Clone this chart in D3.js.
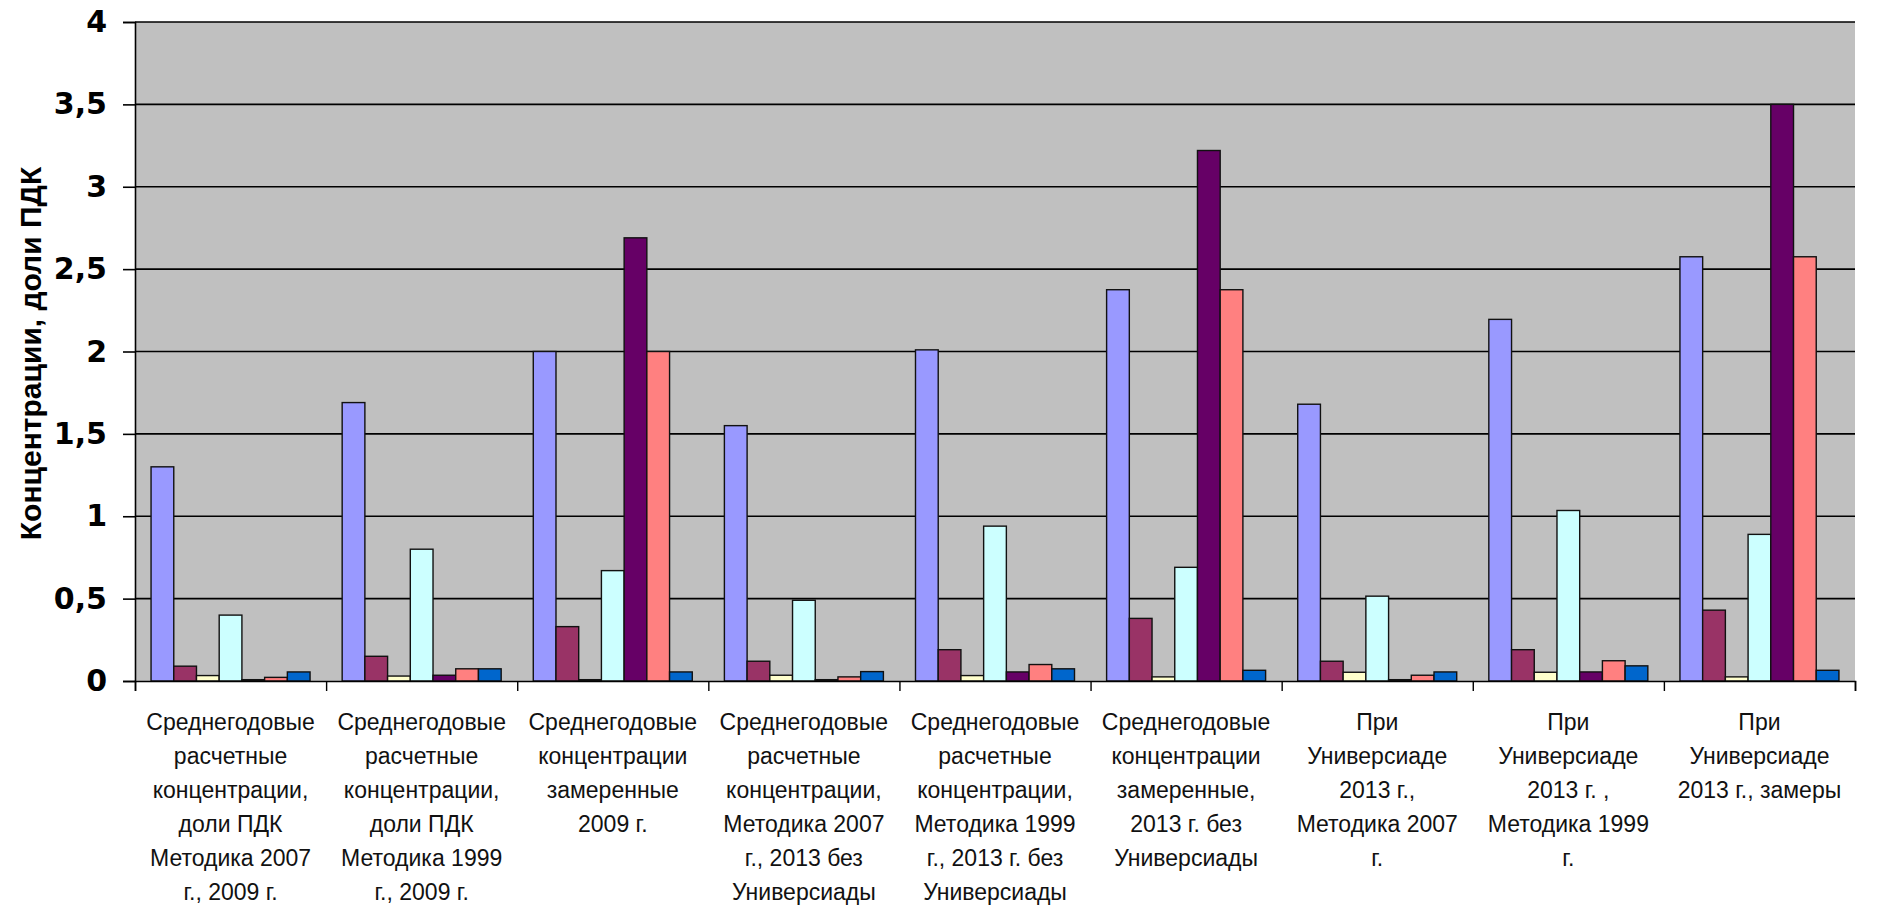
<!DOCTYPE html>
<html>
<head>
<meta charset="utf-8">
<script src="https://cdn.jsdelivr.net/npm/d3@7"></script>
<style>
	body { margin: 0; background: #fff; }
	.ytick text { font-family: "DejaVu Sans", sans-serif; font-weight: bold; font-size: 30px; fill: #000; }
	.cat { font-family: "Liberation Sans", Arial, sans-serif; font-size: 23px; fill: #111; }
	.ytitle { font-family: "Liberation Sans", Arial, sans-serif; font-weight: bold; font-size: 30px; fill: #000; }
</style>
</head>
<body>
<div id="chart"></div>
<script>
// categories, each split into the lines shown under the axis
const categories = [
	["Среднегодовые", "расчетные", "концентрации,", "доли ПДК", "Методика 2007", "г., 2009 г."],
	["Среднегодовые", "расчетные", "концентрации,", "доли ПДК", "Методика 1999", "г., 2009 г."],
	["Среднегодовые", "концентрации", "замеренные", "2009 г."],
	["Среднегодовые", "расчетные", "концентрации,", "Методика 2007", "г., 2013 без", "Универсиады"],
	["Среднегодовые", "расчетные", "концентрации,", "Методика 1999", "г., 2013 г. без", "Универсиады"],
	["Среднегодовые", "концентрации", "замеренные,", "2013 г. без", "Универсиады"],
	["При", "Универсиаде", "2013 г.,", "Методика 2007", "г."],
	["При", "Универсиаде", "2013 г. ,", "Методика 1999", "г."],
	["При", "Универсиаде", "2013 г., замеры"]
];

// one array per series (values in доли ПДК)
const series1 = [1.30, 1.69, 2.00, 1.55, 2.01, 2.375, 1.68, 2.195, 2.575];
const series2 = [0.09, 0.15, 0.33, 0.12, 0.19, 0.38, 0.12, 0.19, 0.43];
const series3 = [0.033, 0.03, 0.008, 0.035, 0.033, 0.025, 0.053, 0.053, 0.025];
const series4 = [0.40, 0.80, 0.67, 0.49, 0.94, 0.69, 0.515, 1.035, 0.89];
const series5 = [0.008, 0.035, 2.69, 0.008, 0.055, 3.22, 0.008, 0.055, 3.5];
const series6 = [0.022, 0.074, 2.00, 0.025, 0.10, 2.375, 0.035, 0.123, 2.575];
const series7 = [0.055, 0.074, 0.055, 0.057, 0.074, 0.065, 0.055, 0.092, 0.065];

const seriesColors = ["#9999FF", "#993366", "#FFFFCC", "#CCFFFF", "#660066", "#FF8080", "#0066CC"];
const yTicks = [0, 0.5, 1, 1.5, 2, 2.5, 3, 3.5, 4];

const allSeries = [series1, series2, series3, series4, series5, series6, series7];

const width = 1879, height = 906;
const plot = {left: 135, right: 1855, top: 22, bottom: 681};

let svg = d3.select("#chart").append("svg")
	.attr("width", width).attr("height", height);

// group scale + bar scale inside a group
let x0 = d3.scaleBand()
	.domain(d3.range(categories.length))
	.range([plot.left, plot.right])
	.paddingInner(0.168).paddingOuter(0.084);
let x1 = d3.scaleBand()
	.domain(d3.range(allSeries.length))
	.range([0, x0.bandwidth()]);
let y = d3.scaleLinear().domain([0, 4]).range([plot.bottom, plot.top]);

// plot background
svg.append("rect")
	.attr("x", plot.left).attr("y", plot.top)
	.attr("width", plot.right - plot.left).attr("height", plot.bottom - plot.top)
	.attr("fill", "#C0C0C0");

// grid lines
svg.append("g")
	.selectAll("line").data(yTicks.filter(d => d > 0)).join("line")
	.attr("x1", plot.left).attr("x2", plot.right)
	.attr("y1", d => y(d)).attr("y2", d => y(d))
	.attr("stroke", "#000").attr("stroke-width", 1.6);

// bars
let groups = svg.append("g").selectAll("g")
	.data(categories).join("g")
	.attr("transform", (d, i) => `translate(${x0(i)},0)`);

groups.selectAll("rect")
	.data((d, i) => allSeries.map((s, j) => ({s: j, v: s[i]})))
	.join("rect")
	.attr("x", d => x1(d.s))
	.attr("y", d => y(d.v))
	.attr("width", x1.bandwidth())
	.attr("height", d => y(0) - y(d.v))
	.attr("fill", d => seriesColors[d.s])
	.attr("stroke", "#111").attr("stroke-width", 1.4);

// y axis
let yAxis = svg.append("g")
	.attr("class", "ytick")
	.attr("transform", `translate(${plot.left},0)`)
	.call(d3.axisLeft(y).tickValues(yTicks).tickSize(12).tickPadding(16)
		.tickFormat(d => String(d).replace(".", ",")));
yAxis.select(".domain").attr("stroke", "#000").attr("stroke-width", 1.6);
yAxis.selectAll(".tick line").attr("stroke", "#000").attr("stroke-width", 1.6);

// x axis: category boundary ticks, no labels from the axis itself
let xb = d3.scaleLinear().domain([0, categories.length]).range([plot.left, plot.right]);
let xAxis = svg.append("g")
	.attr("transform", `translate(0,${plot.bottom})`)
	.call(d3.axisBottom(xb).ticks(categories.length).tickSize(10).tickFormat(""));
xAxis.select(".domain").attr("stroke", "#000").attr("stroke-width", 1.6);
xAxis.selectAll(".tick line").attr("stroke", "#000").attr("stroke-width", 1.4);

// category labels
let lineH = 34;
svg.append("g").selectAll("text")
	.data(categories).join("text")
	.attr("class", "cat")
	.attr("text-anchor", "middle")
	.attr("transform", (d, i) => `translate(${x0(i) + x0.bandwidth() / 2},${plot.bottom + 49})`)
	.selectAll("tspan").data(d => d).join("tspan")
	.attr("x", 0)
	.attr("y", (d, i) => i * lineH)
	.text(d => d);

// y axis title
svg.append("text")
	.attr("class", "ytitle")
	.attr("text-anchor", "middle")
	.attr("transform", `translate(41,${(plot.top + plot.bottom) / 2 + 2}) rotate(-90)`)
	.text("Концентрации, доли ПДК");
</script>
</body>
</html>
